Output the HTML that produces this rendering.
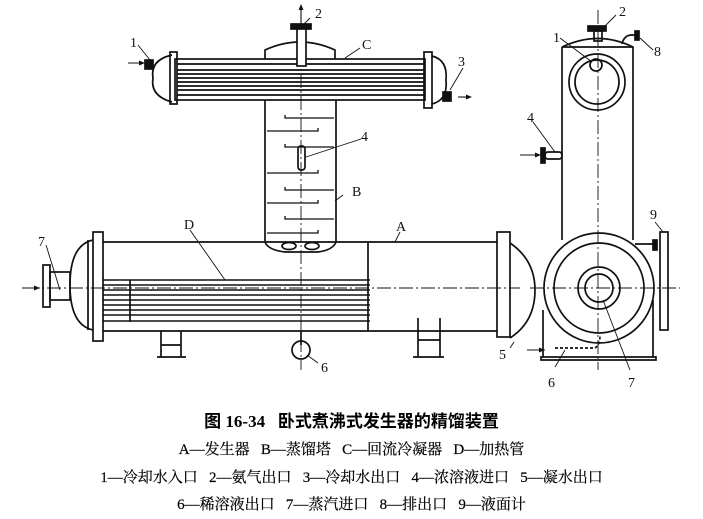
<!DOCTYPE html>
<html><head><meta charset="utf-8"><style>
html,body{margin:0;padding:0;background:#fff;width:703px;height:519px;overflow:hidden}
svg{position:absolute;left:0;top:0}
.cap{position:absolute;left:0;width:703px;text-align:center;font-family:"Liberation Serif","Noto Serif CJK SC",serif;color:#000;white-space:nowrap}
</style></head><body>
<svg width="703" height="519" viewBox="0 0 703 519" fill="none" stroke="#111" stroke-width="1.7" font-family="Liberation Serif,serif" font-size="14">
<g stroke-dasharray="14,3,2,3" stroke-width="0.9">
<line x1="301" y1="8" x2="301" y2="370"/>
<line x1="25" y1="288" x2="520" y2="288"/>
<line x1="598" y1="10" x2="598" y2="370"/>
<line x1="530" y1="288" x2="680" y2="288"/>
</g>
<path d="M265 59 V50 Q300 34 335 50 V59"/>
<rect x="175" y="59" width="250" height="41"/>
<path d="M172 55 Q150 60 153 78 Q150 96 172 102"/>
<rect x="170" y="52" width="7" height="52"/>
<rect x="424" y="52" width="8" height="56"/>
<path d="M432 56 Q448 60 446 80 Q448 100 432 104"/>
<g stroke-width="1.8">
<line x1="177" y1="64" x2="425" y2="64"/><line x1="177" y1="70" x2="425" y2="70"/>
<line x1="177" y1="74" x2="425" y2="74"/><line x1="177" y1="78" x2="425" y2="78"/>
<line x1="177" y1="82" x2="425" y2="82"/><line x1="177" y1="86" x2="425" y2="86"/>
<line x1="177" y1="90" x2="425" y2="90"/><line x1="177" y1="95" x2="425" y2="95"/>
</g>
<rect x="297" y="28" width="9" height="38" fill="#fff"/>
<rect x="291" y="24" width="20" height="5" fill="#111"/>
<rect x="145" y="60" width="8" height="9" fill="#111"/>
<rect x="443" y="92" width="8" height="9" fill="#111"/>
<line x1="265" y1="100" x2="265" y2="242"/><line x1="336" y1="100" x2="336" y2="242"/>
<path d="M265 242 Q268 250 285 252 H318 Q333 250 336 242"/>
<g stroke-width="1.3">
<path d="M285 115 V118 H334"/><path d="M267 131 H318 V128"/>
<path d="M285 144 V147 H334"/><path d="M267 173 H318 V170"/>
<path d="M285 187 V190 H334"/><path d="M267 203 H318 V200"/>
<path d="M285 216 V219 H334"/><path d="M267 233 H318 V230"/>
</g>
<rect x="298" y="146" width="7" height="24" rx="3"/>
<ellipse cx="289" cy="246" rx="7" ry="3.5"/><ellipse cx="312" cy="246" rx="7" ry="3.5"/>
<line x1="103" y1="242" x2="497" y2="242"/><line x1="103" y1="331" x2="497" y2="331"/>
<line x1="368" y1="242" x2="368" y2="331"/>
<rect x="93" y="232" width="10" height="109"/>
<path d="M93 240 Q70 245 70 285 Q70 325 93 330"/>
<line x1="88" y1="240" x2="88" y2="330"/>
<rect x="43" y="265" width="7" height="42"/><rect x="50" y="272" width="20" height="28"/>
<g stroke-width="1.6">
<line x1="103" y1="280" x2="370" y2="280"/><line x1="103" y1="285" x2="370" y2="285"/>
<line x1="103" y1="290" x2="370" y2="290"/><line x1="103" y1="295" x2="370" y2="295"/>
<line x1="103" y1="300" x2="370" y2="300"/><line x1="103" y1="305" x2="370" y2="305"/>
<line x1="103" y1="310" x2="370" y2="310"/><line x1="103" y1="315" x2="370" y2="315"/>
<line x1="103" y1="321" x2="370" y2="321"/>
</g>
<line x1="130" y1="280" x2="130" y2="322"/>
<rect x="497" y="232" width="13" height="105"/>
<path d="M510 243 Q535 260 535 290 Q535 322 510 338"/>
<path d="M161 331 V357 M181 331 V357 M157 357 H186 M161 345 H181"/>
<path d="M418 318 V357 M440 318 V357 M413 357 H444 M418 340 H440"/>
<line x1="301" y1="331" x2="301" y2="345"/><circle cx="301" cy="350" r="9"/>
<path d="M562 47 Q598 30 633 47 V240 M562 47 V240"/>
<line x1="562" y1="47" x2="633" y2="47"/>
<circle cx="597" cy="82" r="28"/><circle cx="597" cy="82" r="22"/><circle cx="596" cy="65" r="6"/>
<rect x="588" y="26" width="18" height="5" fill="#111"/><rect x="594" y="31" width="8" height="10"/>
<path d="M622 44 Q624 35 632 35 H635"/><rect x="635" y="31" width="4" height="9" fill="#111"/>
<circle cx="599" cy="288" r="55"/><circle cx="599" cy="288" r="45"/>
<circle cx="599" cy="288" r="21"/><circle cx="599" cy="288" r="14"/>
<path d="M543 310 V357 M653 300 V357 M541 357 H656 V360 H541 Z"/>
<rect x="545" y="152" width="17" height="7" rx="3"/><rect x="541" y="148" width="4" height="15" fill="#111"/>
<path d="M635 244 H653"/><rect x="653" y="240" width="4" height="10" fill="#111"/>
<rect x="660" y="232" width="8" height="98"/>
<path d="M555 348 H595 Q600 345 600 335" stroke-dasharray="3,2"/>
<g stroke-width="1.1">
<line x1="128" y1="63" x2="145" y2="63"/><line x1="458" y1="97" x2="470" y2="97"/>
<line x1="301" y1="8" x2="301" y2="24"/>
<line x1="22" y1="288" x2="40" y2="288"/>
<line x1="520" y1="155" x2="540" y2="155"/><line x1="527" y1="350" x2="545" y2="350"/>
</g>
<g fill="#111" stroke="none">
<path d="M145 63 l-6 -2.5 v5z"/><path d="M472 97 l-6 -2.5 v5z"/><path d="M301 4 l-2.5 6 h5z"/>
<path d="M40 288 l-6 -2.5 v5z"/><path d="M541 155 l-6 -2.5 v5z"/><path d="M545 350 l-6 -2.5 v5z"/>
</g>
<g stroke-width="0.9">
<line x1="138" y1="45" x2="150" y2="60"/><line x1="310" y1="18" x2="304" y2="24"/>
<line x1="360" y1="48" x2="345" y2="58"/><line x1="463" y1="68" x2="450" y2="90"/>
<line x1="361" y1="139" x2="306" y2="157"/><line x1="343" y1="195" x2="335" y2="201"/>
<line x1="400" y1="232" x2="395" y2="242"/><line x1="190" y1="230" x2="225" y2="280"/>
<line x1="46" y1="245" x2="60" y2="290"/><line x1="318" y1="363" x2="307" y2="355"/>
<line x1="560" y1="38" x2="592" y2="62"/><line x1="616" y1="15" x2="605" y2="26"/>
<line x1="653" y1="50" x2="640" y2="38"/><line x1="533" y1="122" x2="555" y2="152"/>
<line x1="655" y1="222" x2="663" y2="232"/><line x1="630" y1="370" x2="603" y2="300"/>
<line x1="555" y1="367" x2="565" y2="350"/><line x1="510" y1="348" x2="514" y2="342"/>
</g>
<g fill="#111" stroke="none">
<text x="130" y="47">1</text><text x="315" y="18">2</text><text x="458" y="66">3</text>
<text x="361" y="141">4</text><text x="499" y="359">5</text><text x="321" y="372">6</text>
<text x="38" y="246">7</text><text x="654" y="56">8</text><text x="650" y="219">9</text>
<text x="362" y="49">C</text><text x="352" y="196">B</text><text x="396" y="231">A</text><text x="184" y="229">D</text>
<text x="553" y="42">1</text><text x="619" y="16">2</text><text x="527" y="122">4</text>
<text x="548" y="387">6</text><text x="628" y="387">7</text>
</g>
</svg>
<div class="cap" style="top:407px;font-size:17px;font-weight:bold;font-family:'Liberation Serif','Noto Sans CJK SC',serif">图 16-34&nbsp;&nbsp;&nbsp;卧式煮沸式发生器的精馏装置</div>
<div class="cap" style="top:438px;font-size:15px;-webkit-text-stroke:0.2px #000">A—发生器&nbsp;&nbsp;&nbsp;B—蒸馏塔&nbsp;&nbsp;&nbsp;C—回流冷凝器&nbsp;&nbsp;&nbsp;D—加热管</div>
<div class="cap" style="top:466px;font-size:15px;-webkit-text-stroke:0.2px #000">1—冷却水入口&nbsp;&nbsp;&nbsp;2—氨气出口&nbsp;&nbsp;&nbsp;3—冷却水出口&nbsp;&nbsp;&nbsp;4—浓溶液进口&nbsp;&nbsp;&nbsp;5—凝水出口</div>
<div class="cap" style="top:493px;font-size:15px;-webkit-text-stroke:0.2px #000">6—稀溶液出口&nbsp;&nbsp;&nbsp;7—蒸汽进口&nbsp;&nbsp;&nbsp;8—排出口&nbsp;&nbsp;&nbsp;9—液面计</div>
</body></html>
